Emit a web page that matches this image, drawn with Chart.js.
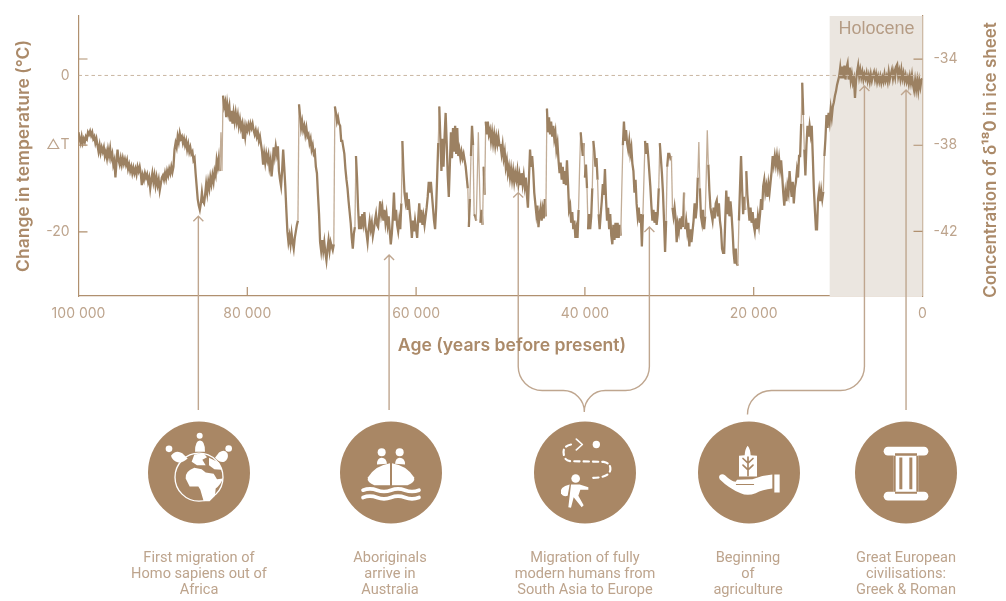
<!DOCTYPE html>
<html>
<head>
<meta charset="utf-8">
<style>
  body { margin: 0; background: #fff; }
  canvas { display: block; }
</style>
<script src="https://cdn.jsdelivr.net/npm/chart.js@4"></script>
</head>
<body>
<canvas id="grafico" width="1006" height="601"></canvas>
<script>
// d18O, one array per 5000 years, oldest first
const from100k = [
  -37.4,-37.7,-37.9,-37.6,-37.9,-37.7,-37.85,-37.6,-37.7,-37.4,
  -37.5,-37.35,-37.55,-37.4,-37.7,-37.6,-37.9,-37.7,-38.0,-38.3,
  -38.0,-38.35,-38.1,-38.3,-38.1,-38.5,-38.3,-38.6,-38.2,-38.5,
  -38.15,-38.6,-38.4,-38.9,-38.7,-39.5,-38.8,-38.2,-38.7,-38.9]
const from95k = [
  -38.6,-38.9,-38.6,-38.85,-38.65,-38.9,-38.7,-39.1,-38.9,-39.2,
  -39.0,-39.3,-39.05,-39.3,-39.1,-39.35,-39.0,-39.2,-39.0,-39.3,
  -39.85,-39.4,-39.6,-39.3,-39.5,-39.35,-39.7,-39.5,-40.0,-39.6,
  -39.3,-39.7,-39.4,-39.85,-39.5,-39.85,-39.6,-40.1,-39.8,-39.5]
const from90k = [
  -39.4,-39.6,-39.3,-39.55,-39.2,-39.4,-39.1,-39.3,-39.0,-39.25,
  -39.0,-38.2,-37.9,-38.1,-37.6,-37.85,-37.45,-37.7,-37.6,-37.9,
  -37.7,-38.0,-37.8,-38.2,-37.95,-38.3,-38.1,-38.4,-38.3,-38.7,
  -38.6,-39.3,-39.9,-40.5,-40.8,-41.0,-40.7,-40.2,-40.6,-40.7]
const from85k = [
  -40.3,-39.8,-40.2,-39.7,-40.0,-39.5,-39.8,-39.4,-39.7,-39.2,
  -39.4,-38.7,-39.0,-38.6,-39.2,-37.4,-39.2,-35.7,-36.2,-36.0,
  -36.7,-36.1,-36.5,-36.2,-36.9,-36.4,-37.0,-36.5,-36.9,-36.5,
  -36.9,-36.6,-37.1,-36.8,-37.2,-37.0,-37.7,-37.2,-37.6,-37.1]
const from80k = [
  -37.3,-37.05,-37.3,-37.0,-37.2,-37.0,-37.3,-37.5,-37.3,-37.6,
  -37.4,-37.8,-37.6,-37.95,-38.3,-38.9,-38.4,-38.8,-38.4,-38.7,
  -38.45,-39.0,-38.7,-39.45,-38.9,-38.1,-38.5,-38.05,-38.4,-38.05,
  -39.2,-39.6,-39.9,-39.2,-38.2,-39.0,-39.9,-41.0,-42.0,-42.5]
const from75k = [
  -42.2,-42.6,-42.1,-42.5,-42.8,-42.3,-42.0,-41.7,-41.5,-36.1,
  -36.6,-37.2,-36.9,-37.3,-37.1,-37.5,-37.2,-37.6,-37.5,-37.9,
  -37.7,-38.2,-38.0,-38.4,-38.3,-39.0,-39.3,-40.3,-41.2,-42.5,
  -42.9,-42.4,-42.9,-42.5,-43.0,-43.35,-42.8,-42.4,-42.9,-42.5]
const from70k = [
  -42.7,-42.87,-42.6,-36.2,-36.5,-36.9,-36.7,-37.0,-37.1,-37.8,
  -37.8,-38.1,-38.4,-39.1,-39.6,-40.0,-40.6,-41.1,-41.6,-42.3,
  -42.8,-42.1,-41.8,-38.5,-39.5,-40.9,-41.9,-41.3,-41.9,-41.2,
  -41.6,-41.1,-41.8,-42.1,-42.5,-41.9,-41.5,-41.9,-41.6,-42.2]
const from65k = [
  -41.9,-41.5,-41.2,-41.7,-41.8,-41.2,-40.6,-41.2,-40.9,-41.5,
  -41.0,-41.6,-41.2,-41.7,-41.3,-42.0,-42.6,-42.1,-41.3,-40.2,
  -41.5,-41.0,-41.7,-42.0,-41.5,-41.9,-40.7,-37.8,-39.2,-40.2,
  -40.6,-40.2,-41.0,-40.5,-41.1,-41.6,-42.3,-41.5,-42.0,-41.5]
const from60k = [
  -41.9,-42.3,-41.4,-40.7,-41.6,-41.0,-41.7,-41.3,-41.7,-41.3,
  -40.9,-40.4,-39.7,-40.2,-39.7,-40.3,-40.9,-41.5,-41.9,-40.9,
  -39.4,-37.9,-36.2,-37.7,-39.2,-37.7,-39.0,-37.6,-36.5,-37.9,
  -39.4,-40.4,-38.9,-37.4,-38.6,-37.2,-38.3,-37.1,-38.4,-37.2]
const from55k = [
  -38.5,-38.2,-38.6,-38.3,-38.6,-38.4,-38.7,-39.0,-39.5,-40.0,
  -41.8,-40.5,-38.5,-37.1,-38.0,-41.2,-41.3,-41.5,-39.5,-37.4,
  -39.5,-41.6,-41.0,-41.7,-39.0,-40.3,-36.9,-37.5,-36.9,-37.5,
  -37.3,-37.8,-37.4,-37.9,-37.5,-38.0,-37.6,-37.95,-37.6,-38.0]
const from50k = [
  -38.0,-38.4,-38.0,-38.6,-38.3,-39.0,-38.7,-39.3,-39.0,-39.5,
  -39.1,-39.6,-39.2,-39.7,-39.3,-39.6,-39.2,-39.8,-39.4,-39.85,
  -39.3,-39.8,-39.4,-39.9,-39.5,-40.3,-40.9,-39.5,-38.2,-39.0,
  -38.5,-39.2,-40.2,-40.7,-41.2,-40.8,-41.8,-41.2,-40.9,-41.5]
const from45k = [
  -41.0,-41.4,-40.5,-41.3,-36.3,-37.4,-36.7,-37.5,-36.9,-37.6,
  -37.1,-37.7,-37.4,-38.2,-37.9,-38.7,-39.3,-38.8,-39.6,-39.0,
  -39.8,-39.2,-39.85,-38.7,-39.8,-41.0,-40.8,-41.6,-41.1,-41.9,
  -41.5,-42.3,-41.9,-42.3,-41.0,-39.0,-37.4,-38.0,-38.5,-37.9]
const from40k = [
  -39.5,-38.9,-40.0,-41.9,-41.2,-41.9,-41.3,-40.0,-37.8,-38.3,
  -39.0,-38.6,-39.6,-41.2,-41.9,-41.2,-40.6,-39.8,-40.3,-39.1,
  -40.5,-41.5,-40.9,-41.9,-41.2,-42.2,-42.6,-41.7,-42.4,-41.6,
  -42.3,-41.6,-42.3,-41.7,-42.2,-40.0,-38.0,-36.9,-37.8,-37.3]
const from35k = [
  -37.9,-38.2,-37.8,-38.4,-38.1,-38.85,-39.2,-40.2,-39.6,-40.7,
  -41.3,-40.9,-41.6,-41.2,-42.7,-41.2,-39.5,-37.8,-38.4,-37.9,
  -38.5,-39.2,-39.9,-40.8,-41.5,-41.0,-41.6,-41.1,-41.7,-41.2,
  -40.0,-37.9,-38.6,-39.3,-40.2,-41.5,-42.95,-41.5,-39.0,-38.4]
const from30k = [
  -38.4,-38.6,-38.5,-40.9,-41.3,-40.9,-41.4,-42.5,-41.7,-42.0,
  -41.4,-41.9,-41.3,-41.8,-40.2,-41.9,-41.5,-42.0,-41.6,-42.7,
  -41.9,-42.5,-42.0,-41.5,-40.7,-41.4,-40.9,-39.5,-37.85,-40.0,
  -41.3,-41.6,-41.0,-41.9,-41.3,-39.5,-37.3,-38.9,-40.1,-40.9]
const from25k = [
  -41.2,-41.5,-40.9,-41.4,-40.7,-40.55,-41.3,-40.7,-41.5,-41.9,
  -42.8,-43.0,-43.0,-41.5,-40.1,-41.2,-40.4,-41.3,-40.6,-41.2,
  -42.0,-43.0,-43.5,-42.8,-43.5,-43.6,-41.5,-40.0,-38.5,-40.0,
  -41.2,-40.4,-41.0,-39.2,-40.3,-40.9,-41.5,-40.9,-41.6,-41.1]
const from20k = [
  -41.7,-42.0,-41.4,-41.9,-41.3,-41.7,-41.2,-40.5,-41.0,-39.9,
  -39.6,-40.2,-39.9,-40.4,-39.8,-40.2,-39.7,-39.2,-38.5,-38.9,
  -38.5,-38.9,-38.5,-39.0,-38.6,-39.1,-38.7,-39.4,-40.2,-40.8,
  -40.2,-40.6,-39.9,-40.2,-39.2,-39.9,-40.4,-39.7,-40.7,-40.0]
const from15k = [
  -39.7,-39.15,-39.5,-38.5,-38.5,-37.0,-35.1,-36.6,-38.2,-39.4,
  -38.0,-37.1,-37.6,-37.1,-37.5,-37.1,-38.5,-40.0,-41.0,-41.9,
  -41.9,-40.5,-40.1,-40.6,-40.1,-40.5,-40.15,-38.5,-37.7,-36.6,
  -37.2,-36.5,-36.9,-36.3,-36.7,-36.2,-36.0,-35.7,-35.5,-35.2]
const from10k = [
  -35.0,-34.8,-34.4,-34.9,-34.35,-34.9,-34.3,-34.95,-34.4,-34.2,
  -34.95,-34.4,-35.0,-34.7,-35.1,-34.9,-35.8,-35.0,-34.6,-34.3,
  -34.8,-34.5,-34.85,-34.6,-34.95,-34.7,-34.9,-34.65,-35.0,-34.75,
  -35.05,-34.7,-35.0,-34.75,-34.6,-34.95,-34.7,-35.05,-34.8,-35.05]
const from5k = [
  -34.8,-35.1,-34.85,-35.05,-34.7,-35.0,-34.8,-35.05,-34.6,-34.95,
  -34.7,-34.5,-34.9,-34.6,-34.85,-34.35,-34.25,-34.8,-34.55,-34.9,
  -34.5,-34.9,-34.65,-35.0,-34.75,-35.05,-34.85,-35.15,-34.8,-35.1,
  -34.75,-35.2,-35.45,-35.0,-35.4,-35.0,-35.45,-35.0,-35.3,-34.95]

const blocks = [from100k, from95k, from90k, from85k, from80k, from75k, from70k, from65k, from60k, from55k,
  from50k, from45k, from40k, from35k, from30k, from25k, from20k, from15k, from10k, from5k]
const blockYears = 5000

const xTicks = [100000, 80000, 60000, 40000, 20000, 0]
const leftTicks = [2.1, 0, -8.9, -20]
const leftLabels = { "0": "0", "-8.9": "△T", "-20": "-20" }
const rightTicks = [-34, -38, -42]
const holoceneStart = 11000

// arrows: age on the x axis, tip as d18O
const arrowAges = [85800, 63200, 47900, 32360, 6880, 1950]
const arrowTips = [-41.3, -43.1, -40.2, -41.8, -35.25, -35.44]

const captions = [
  { x: 199, lines: ["First migration of", "Homo sapiens out of", "Africa"] },
  { x: 390, lines: ["Aboriginals", "arrive in", "Australia"] },
  { x: 585, lines: ["Migration of fully", "modern humans from", "South Asia to Europe"] },
  { x: 748, lines: ["Beginning", "of", "agriculture"] },
  { x: 906, lines: ["Great European", "civilisations:", "Greek & Roman"] }
]
const circleX = [199, 391, 585, 749, 906]
const circleY = 472.5

const colTrace = "#9c8162"
const colSteep = "#c2ad97"
const colAxis = "#b0906f"
const colLabel = "#bda48d"
const colTitle = "#ab8a69"
const colIcon = "#a98765"
const colBand = "#ebe6e0"
const colArrow = "#bfa68f"

let trace = []
blocks.forEach((b, i) => {
  b.forEach((v, j) => trace.push({ x: 100000 - i * blockYears - j * blockYears / b.length, y: v }))
})
trace.push({ x: 0, y: -34.9 })

// icons are written at 3x, relative to the middle of their circle
function dot(ctx, x, y, r) {
  ctx.beginPath()
  ctx.arc(x, y, r, 0, Math.PI * 2)
  ctx.fill()
}

function shape(ctx, d) {
  ctx.fill(new Path2D(d))
}

function line(ctx, d, w, dash) {
  ctx.lineWidth = w
  ctx.setLineDash(dash || [])
  ctx.stroke(new Path2D(d))
  ctx.setLineDash([])
}

function iconGlobe(ctx) {
  ctx.beginPath()
  ctx.arc(0, 14, 72, 0, Math.PI * 2)
  ctx.lineWidth = 4
  ctx.stroke()
  dot(ctx, 2, -110, 9)
  dot(ctx, -90, -71, 10)
  dot(ctx, 89, -72, 10)
  shape(ctx, "M-12 -62 Q-12 -96 3 -96 Q18 -96 18 -62 Z")
  shape(ctx, "M-84 -50 Q-70 -70 -50 -58 L-34 -42 Q-50 -28 -62 -30 Q-80 -34 -84 -50 Z")
  shape(ctx, "M86 -56 Q78 -72 60 -60 L48 -44 Q62 -28 76 -32 Q90 -40 86 -56 Z")
  shape(ctx, "M-40 18 Q-42 -4 -14 -14 L8 -10 L20 0 L44 4 L54 20 L72 18 Q64 38 50 48 L48 70 L32 86 L14 86 L4 52 L-2 42 L-28 42 Z")
  shape(ctx, "M-14 -54 L14 -58 L24 -46 L10 -38 L20 -22 L-6 -22 L-22 -32 Z")
  shape(ctx, "M30 -44 L60 -30 L68 -8 L46 -10 L30 -22 Z")
}

function iconBoat(ctx) {
  dot(ctx, -28, -61, 12)
  dot(ctx, 26, -61, 12)
  shape(ctx, "M-42 -24 Q-42 -44 -28 -44 Q-14 -44 -12 -26 Z")
  shape(ctx, "M12 -26 Q14 -44 26 -44 Q42 -44 42 -24 Z")
  shape(ctx, "M-3 -28 L-3 38 L-50 38 Q-74 28 -69 14 Q-46 -22 -3 -28 Z")
  shape(ctx, "M3 -28 L3 38 L50 38 Q74 28 69 14 Q46 -22 3 -28 Z")
  line(ctx, "M-84 53 q21 -8 42 0 t42 0 t42 0 t42 0", 11)
  line(ctx, "M-84 75 q21 -8 42 0 t42 0 t42 0 t42 0", 11)
}

function iconRoute(ctx) {
  dot(ctx, 34, -84, 11)
  line(ctx, "M-26 -100 L-8 -84 L-26 -68", 5)
  line(ctx, "M-42 -84 Q-72 -78 -62 -48 Q-58 -34 -40 -34 L56 -32 Q78 -28 76 -8 Q72 16 22 16", 6.5, [16, 12])
  dot(ctx, -28, 18, 13)
  shape(ctx, "M-42 36 L-16 36 L10 44 L10 52 L-14 52 L-20 70 L-4 98 L-10 104 L-34 74 L-42 106 L-50 104 Z")
  shape(ctx, "M-46 36 Q-78 44 -72 62 Q-66 74 -52 70 Z")
}

function iconWheat(ctx) {
  shape(ctx, "M-30 12 L-30 -50 L-13 -52 Q-12 -70 -4 -80 Q4 -70 5 -52 L24 -50 L24 12 Z")
  ctx.strokeStyle = colIcon
  line(ctx, "M-3 -46 L-3 10 M-18 -42 L-3 -28 L12 -42 M-18 -22 L-3 -8 L12 -22", 5)
  ctx.strokeStyle = "#fff"
  shape(ctx, "M-88 8 Q-80 2 -72 8 Q-55 25 -40 28 L-36 22 L10 20 Q40 8 70 6 L70 48 Q40 52 20 62 Q-5 72 -25 62 Q-60 48 -88 20 Q-92 12 -88 8 Z")
  ctx.strokeStyle = colIcon
  line(ctx, "M-38 36 L14 36", 3)
  ctx.strokeStyle = "#fff"
  shape(ctx, "M76 6 L92 6 L92 60 L76 60 Z")
}

function iconColumn(ctx) {
  line(ctx, "M-54 -64 L54 -64", 26)
  line(ctx, "M-54 71 L54 71", 26)
  shape(ctx, "M-37 -66 L37 -66 L37 72 L-37 72 Z")
  ctx.fillStyle = colIcon
  shape(ctx, "M-33 -58 L33 -58 L33 -50 L-33 -50 Z M-33 58 L33 58 L33 64 L-33 64 Z")
  shape(ctx, "M-20 -45 L-11 -45 L-11 50 L-20 50 Z M10 -45 L19 -45 L19 50 L10 50 Z")
  shape(ctx, "M-37 -50 L-31 -50 L-31 58 L-37 58 Z M31 -50 L37 -50 L37 58 L31 58 Z")
  ctx.fillStyle = "#fff"
}

const icons = [iconGlobe, iconBoat, iconRoute, iconWheat, iconColumn]

// Holocene band, goes under the trace
const bandPlugin = {
  id: "band",
  beforeDatasetsDraw(chart) {
    const { ctx, chartArea, scales } = chart
    const x0 = scales.x.getPixelForValue(holoceneStart)
    const x1 = scales.x.getPixelForValue(0)
    ctx.save()
    ctx.fillStyle = colBand
    ctx.fillRect(x0, chartArea.top, x1 - x0, chartArea.bottom - chartArea.top)
    ctx.fillStyle = "#b59c85"
    ctx.font = "18px 'Liberation Sans'"
    ctx.textAlign = "center"
    ctx.textBaseline = "middle"
    ctx.fillText("Holocene", (x0 + x1) / 2 + 0.5, 29)
    ctx.restore()
  }
}

// inner tick marks, arrows, brackets, icons and captions
const notesPlugin = {
  id: "notes",
  afterDraw(chart) {
    const { ctx, chartArea, scales } = chart
    ctx.save()

    ctx.strokeStyle = colAxis
    ctx.lineWidth = 1.2
    ctx.beginPath()
    xTicks.slice(1, 5).forEach(v => {
      const x = scales.x.getPixelForValue(v)
      ctx.moveTo(x, chartArea.bottom)
      ctx.lineTo(x, chartArea.bottom - 9)
    })
    leftTicks.filter(v => v != 0).forEach(v => {
      const y = scales.yLeft.getPixelForValue(v)
      ctx.moveTo(chartArea.left, y)
      ctx.lineTo(chartArea.left + 9, y)
    })
    rightTicks.forEach(v => {
      const y = scales.yRight.getPixelForValue(v)
      ctx.moveTo(chartArea.right, y)
      ctx.lineTo(chartArea.right - 9, y)
    })
    ctx.stroke()

    ctx.strokeStyle = colArrow
    ctx.lineWidth = 1.4
    const ax = arrowAges.map(v => scales.x.getPixelForValue(v))
    const ay = arrowTips.map(v => scales.yRight.getPixelForValue(v))
    ax.forEach((x, i) => {
      ctx.beginPath()
      ctx.moveTo(x - 5, ay[i] + 5)
      ctx.lineTo(x, ay[i])
      ctx.lineTo(x + 5, ay[i] + 5)
      ctx.moveTo(x, ay[i])
      ctx.lineTo(x, (i == 0 || i == 1 || i == 5) ? 410 : 366)
      ctx.stroke()
    })

    // brackets joining the arrows to their circles
    const bx = circleX[2] - 0.7
    ctx.beginPath()
    ctx.moveTo(ax[2], 366)
    ctx.arcTo(ax[2], 390.5, ax[2] + 24, 390.5, 24)
    ctx.arcTo(bx, 390.5, bx, 412, 21)
    ctx.lineTo(bx, 412)
    ctx.moveTo(ax[3], 366)
    ctx.arcTo(ax[3], 390.5, ax[3] - 24, 390.5, 24)
    ctx.arcTo(bx, 390.5, bx, 412, 21)
    ctx.lineTo(bx, 412)
    ctx.moveTo(ax[4], 366)
    ctx.arcTo(ax[4], 390.5, ax[4] - 24, 390.5, 24)
    ctx.arcTo(747.5, 390.5, 747.5, 414, 24)
    ctx.lineTo(747.5, 414)
    ctx.stroke()

    circleX.forEach((x, i) => {
      ctx.fillStyle = colIcon
      dot(ctx, x, circleY, 51)
      ctx.save()
      ctx.translate(x, circleY)
      ctx.scale(1 / 3, 1 / 3)
      ctx.fillStyle = "#fff"
      ctx.strokeStyle = "#fff"
      ctx.lineCap = "round"
      ctx.lineJoin = "round"
      icons[i](ctx)
      ctx.restore()
    })

    ctx.fillStyle = colLabel
    ctx.font = "14.6px Roboto"
    ctx.textAlign = "center"
    ctx.textBaseline = "middle"
    captions.forEach(c => {
      c.lines.forEach((t, i) => ctx.fillText(t, c.x, 558 + i * 16))
    })

    ctx.fillStyle = colTitle
    ctx.font = "600 17.6px Inter"
    ctx.fillText("Age (years before present)", 512, 346)

    // the right title reads bottom to top, which the axis title can't do
    ctx.font = "600 17px Inter"
    ctx.translate(990.5, 160)
    ctx.rotate(-Math.PI / 2)
    ctx.fillText("Concentration of δ¹⁸0 in ice sheet", 0, 0)
    ctx.restore()
  }
}

new Chart(document.getElementById("grafico"), {
  type: "line",
  data: {
    datasets: [
      {
        data: [{ x: 100000, y: 0 }, { x: 0, y: 0 }],
        yAxisID: "yLeft",
        borderColor: "#c9b6a2",
        borderWidth: 1,
        borderDash: [3.5, 3],
        pointRadius: 0
      },
      {
        data: trace,
        yAxisID: "yRight",
        borderColor: colTrace,
        borderWidth: 2.3,
        pointRadius: 0,
        tension: 0,
        segment: {
          borderColor: c => Math.abs(c.p1.parsed.y - c.p0.parsed.y) > 1.6 ? colSteep : colTrace,
          borderWidth: c => Math.abs(c.p1.parsed.y - c.p0.parsed.y) > 1.6 ? 1.3 : 2.3
        }
      }
    ]
  },
  options: {
    responsive: false,
    animation: false,
    layout: { padding: { top: 16 } },
    plugins: { legend: { display: false }, tooltip: { enabled: false } },
    scales: {
      x: {
        type: "linear",
        reverse: true,
        min: 0,
        max: 100000,
        grid: { display: false, tickLength: 0 },
        border: { color: colAxis, width: 1.2 },
        afterBuildTicks: s => { s.ticks = xTicks.map(v => ({ value: v })) },
        afterFit: s => { s.height = 305; s.paddingLeft = 0; s.paddingRight = 0 },
        ticks: {
          color: colLabel,
          font: { family: "Inter", size: 14 },
          padding: 9,
          maxRotation: 0,
          autoSkip: false,
          callback: v => String(v).replace(/\B(?=(\d{3})+$)/g, " ")
        }
      },
      yLeft: {
        position: "left",
        min: -28.2,
        max: 7.6,
        grid: { display: false, tickLength: 0 },
        border: { color: colAxis, width: 1.2 },
        afterBuildTicks: s => { s.ticks = leftTicks.map(v => ({ value: v })) },
        afterFit: s => { s.width = 78.5; s.paddingTop = 0; s.paddingBottom = 0 },
        title: {
          display: true,
          text: "Change in temperature (°C)",
          color: colTitle,
          font: { family: "Inter", size: 17.5, weight: "600" },
          padding: { top: 13, bottom: 0 }
        },
        ticks: {
          color: colLabel,
          font: { family: "Inter", size: 14 },
          padding: 9,
          autoSkip: false,
          callback: v => leftLabels[String(v)] || ""
        }
      },
      yRight: {
        position: "right",
        min: -45,
        max: -32,
        grid: { display: false, tickLength: 0 },
        border: { color: colAxis, width: 1.2 },
        afterBuildTicks: s => { s.ticks = rightTicks.map(v => ({ value: v })) },
        afterFit: s => { s.width = 83.5; s.paddingTop = 0; s.paddingBottom = 0 },
        ticks: {
          color: colLabel,
          font: { family: "Inter", size: 14 },
          padding: 11,
          autoSkip: false
        }
      }
    }
  },
  plugins: [bandPlugin, notesPlugin]
})
</script>
</body>
</html>
